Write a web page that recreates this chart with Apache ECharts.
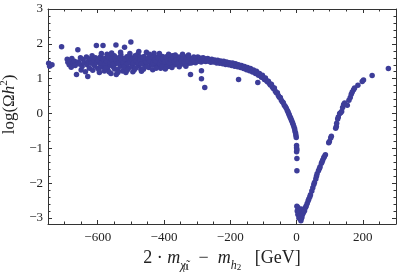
<!DOCTYPE html>
<html>
<head>
<meta charset="utf-8">
<script src="https://cdn.jsdelivr.net/npm/echarts@6/dist/echarts.min.js"></script>
<style>html,body{margin:0;padding:0;background:#fff}#c{width:399px;height:272px}</style>
</head>
<body>
<div id="c"></div>
<script>
// ---- data ----
const xTickValues = [-600, -400, -200, 0, 200];
const xMinorTicks = [-700, -650, -550, -500, -450, -350, -300, -250, -150, -100, -50, 50, 100, 150, 250];
const yTickValues = [-3, -2, -1, 0, 1, 2, 3];
const yMinorTicks = [-2.8, -2.6, -2.4, -2.2, -1.8, -1.6, -1.4, -1.2, -0.8, -0.6, -0.4, -0.2,
  0.2, 0.4, 0.6, 0.8, 1.2, 1.4, 1.6, 1.8, 2.2, 2.4, 2.6, 2.8];

const plateauPoints = [
[-748,1.44],[-745,1.36],[-738,1.40],[-709,1.92],
[-692,1.56],[-690,1.47],[-686,1.40],[-684,1.52],[-680,1.33],[-678,1.58],[-674,1.45],[-670,1.50],[-668,1.38],[-664,1.12],[-660,1.83],[-658,1.48],[-655,1.42],[-652,1.60],[-650,1.25],[-647,1.35],[-644,1.55],[-640,1.46],[-637,1.20],[-634,1.62],[-632,1.40],[-630,1.06],[-628,1.50],[-625,1.30],[-622,1.57],[-620,1.44],[-617,1.66],[-615,1.24],[-612,1.52],[-610,1.38],[-607,1.60],[-604,1.95],[-602,1.47],[-600,1.30],[-597,1.55],[-595,1.18],[-592,1.42],[-590,1.64],[-587,1.35],[-584,1.95],[-582,1.50],[-580,1.22],[-577,1.58],[-575,1.44],[-572,1.70],[-570,1.28],[-567,1.52],[-565,1.38],[-562,1.62],[-560,1.15],[-557,1.48],[-555,1.56],[-552,1.33],[-550,1.66],[-548,1.42],[-545,1.97],[-544,1.12],[-542,1.54],[-540,1.26],[-537,1.60],[-535,1.46],[-532,1.36],[-530,1.68],[-527,1.50],[-525,1.22],[-522,1.57],[-519,1.90],[-517,1.40],[-515,1.18],[-512,1.63],[-510,1.48],[-507,1.30],[-505,1.55],[-502,1.44],[-500,2.05],[-498,1.60],[-495,1.35],[-492,1.52],[-490,1.25],[-487,1.66],[-485,1.45],[-482,1.58],[-479,1.70],[-477,1.38],[-475,1.50],[-472,1.62],[-470,1.28],[-468,1.21],[-466,1.55],[-463,1.43],[-460,1.64],[-457,1.36],[-455,1.52],[-453,1.76],[-450,1.47],[-447,1.58],[-445,1.32],[-442,1.60],[-440,1.45],[-437,1.53],[-435,1.40],[-432,1.66],[-430,1.73],[-428,1.48],[-425,1.56],[-422,1.36],[-420,1.62],[-417,1.50],[-415,1.44],[-412,1.58],[-410,1.30],[-407,1.54],[-405,1.64],[-402,1.46],[-400,1.52],[-397,1.40],[-395,1.60],[-392,1.48],[-390,1.56],[-387,1.35],[-385,1.62],[-382,1.50],[-380,1.44],[-377,1.58],[-375,1.66],[-372,1.47],[-370,1.53],[-367,1.40],[-365,1.60],[-362,1.50],[-360,1.56],[-357,1.45],[-355,1.62],[-352,1.52],[-350,1.48],[-347,1.58],[-345,1.42],[-342,1.55],[-340,1.64],[-337,1.50],[-335,1.46],[-332,1.57],[-330,1.52],[-327,1.60],[-325,1.44],[-322,1.55],[-320,1.12],[-318,1.50],[-315,1.58],[-312,1.48],[-310,1.62],[-307,1.53],[-305,1.46],[-302,1.57]
];

const plateauCorePoints = [
[-598,1.52],[-593,1.61],[-588,1.45],[-583,1.56],[-578,1.40],[-573,1.50],[-568,1.63],[-563,1.47],[-558,1.55],[-553,1.42],[-548,1.58],[-543,1.50],[-538,1.44],[-533,1.60],[-528,1.53],[-523,1.46],[-518,1.57],[-513,1.41],[-508,1.62],[-503,1.49],[-498,1.55],[-493,1.44],[-488,1.59],[-483,1.51],[-478,1.46],[-473,1.56],[-468,1.43],[-463,1.61],[-458,1.52],[-453,1.47],[-448,1.57],[-443,1.50],[-438,1.62],[-433,1.45],[-428,1.54],[-423,1.49],[-418,1.59],[-413,1.43],[-408,1.52],[-403,1.57],[-398,1.48],[-393,1.63],[-388,1.51],[-383,1.46],[-378,1.55],[-373,1.60],[-368,1.49],[-363,1.54],[-358,1.44],[-353,1.58],[-348,1.51],[-343,1.61],[-338,1.47],[-333,1.55],[-328,1.50],[-323,1.59],[-318,1.45],[-313,1.56],[-308,1.51],[-303,1.60]
];

const plateauScatterPoints = [
[-596,1.26],[-589,1.72],[-576,1.31],[-566,1.20],[-558,1.74],[-549,1.28],[-539,1.18],[-531,1.76],[-521,1.33],[-511,1.24],[-503,1.72],[-494,1.20],[-486,1.30],[-476,1.78],[-462,1.27],[-451,1.34],[-444,1.70],[-434,1.26],[-424,1.30],[-414,1.72],[-406,1.34],[-396,1.28],[-386,1.70],[-376,1.32],[-366,1.68],[-354,1.34],[-344,1.70],[-334,1.36],[-326,1.68]
];

const descentPoints = [
[-298,1.62],[-296,1.50],[-293,1.56],[-290,1.59],[-288,1.48],[-287,1.23],[-287,1.00],[-285,1.55],[-282,1.60],[-280,1.51],[-277,0.75],[-277,1.57],[-274,1.49],[-271,1.55],[-268,1.58],[-265,1.50],[-262,1.54],[-259,1.47],[-256,1.56],[-253,1.51],[-250,1.48],[-247,1.54],[-244,1.50],[-241,1.45],[-238,1.53],[-235,1.49],[-232,1.44],[-229,1.51],[-226,1.47],[-223,1.43],[-220,1.50],[-217,1.45],[-214,1.41],[-211,1.48],[-208,1.44],[-205,1.40],[-202,1.46],[-199,1.42],[-196,1.38],[-193,1.45],[-190,1.40],[-187,1.36],[-184,1.43],[-181,1.38],[-178,1.34],[-175,0.98],[-175,1.40],[-172,1.36],[-169,1.32],[-166,1.38],[-163,1.33],[-160,1.29],[-157,1.35],[-154,1.30],[-151,1.26],[-148,1.32],[-145,1.27],[-142,1.23],[-139,1.29],[-136,1.24],[-133,1.19],[-130,1.25],[-127,1.20],[-124,1.15],[-121,1.21],[-118,1.16],[-117,0.89],[-115,1.10],[-112,1.15],[-109,1.09],[-106,1.04],[-103,1.10],[-100,1.03],[-97,0.98],[-94,1.02],[-91,0.95],[-88,0.91],[-85,0.93],[-82,0.86],[-79,0.82],[-76,0.84],[-73,0.76],[-70,0.72],[-67,0.73],[-64,0.64],[-61,0.60],[-58,0.60],[-55,0.52],[-52,0.47],[-49,0.46],[-46,0.38],[-43,0.34],[-40,0.31],[-37,0.24],[-34,0.20],[-31,0.15],[-28,0.09],[-26,0.05],[-24,0.00],[-22,-0.04],[-20,-0.09],[-18,-0.13],[-16,-0.18],[-14,-0.22],[-12,-0.27],[-10,-0.32],[-8,-0.38],[-6,-0.44],[-5,-0.50],[-3,-0.56],[-2,-0.62],[-1,-0.69]
];

const dipPoints = [
[0,-0.92],[0,-0.98],[1,-1.04],[0,-1.10],[1,-1.29],[1,-1.64],
[1,-2.66],[4,-2.70],[2,-2.80],[6,-2.84],[4,-2.90],[9,-2.95],[8,-2.78],[12,-2.92],[14,-2.74],[11,-3.02],[13,-3.08],[16,-2.98],[7,-3.00]
];

const risePoints = [
[14,-3.02],[18,-2.90],[21,-2.84],[24,-2.79],[27,-2.70],[29,-2.65],[32,-2.58],[35,-2.50],[37,-2.45],[40,-2.39],[42,-2.33],[46,-2.22],[49,-2.13],[52,-2.04],[54,-1.98],[58,-1.88],[60,-1.80],[62,-1.73],[66,-1.64],[69,-1.58],[71,-1.53],[75,-1.43],[77,-1.38],[79,-1.33],[82,-1.27],[84,-1.23],[87,-1.18],[97,-0.84],[99,-0.80],[103,-0.70],[105,-0.65],[118,-0.42],[120,-0.37],[121,-0.28],[124,-0.16],[126,-0.10],[130,0.00],[133,0.02],[136,0.06],[139,0.17],[142,0.26],[145,0.30],[153,0.24],[158,0.38],[162,0.46],[165,0.55],[168,0.62],[172,0.68],[175,0.73],[185,0.81],[198,0.92],[202,0.96],[228,1.09],[277,1.29]
];

// ---- chart ----
const frameColor = '#333';
const serif = 'Liberation Serif';
const xMin = -750, xMax = 300, yMin = -3.17, yMax = 3;
const fmt = v => (v < 0 ? '\u2212' + (-v) : '' + v);

function axisBase(extra) {
  return Object.assign({
    type: 'value', splitLine: { show: false }, silent: true
  }, extra);
}

const chart = echarts.init(document.getElementById('c'), null, { renderer: 'canvas' });
chart.setOption({
  animation: false,
  backgroundColor: '#fff',
  grid: { left: 48, right: 3, top: 9, bottom: 48, containLabel: false, outerBoundsMode: 'none' },
  xAxis: [
    axisBase({
      position: 'bottom', min: xMin, max: xMax,
      axisLine: { show: true, onZero: false, lineStyle: { color: frameColor, width: 1 } },
      axisTick: { show: true, inside: true, length: 4, customValues: xTickValues, lineStyle: { color: frameColor } },
      axisLabel: { show: true, customValues: xTickValues, formatter: fmt, fontFamily: serif, fontSize: 13, color: '#222', margin: 7 },
      name: '{n|2 · }{i|m}{s|χ̃}{sup|0}{sub|1}{n|  −  }{i|m}{s2|h}{ss|2}{n|   [GeV]}',
      nameLocation: 'middle', nameGap: 20,
      nameTextStyle: {
        fontFamily: serif, fontSize: 18, color: '#222',
        rich: {
          n: { fontFamily: serif, fontSize: 18, color: '#222', lineHeight: 28 },
          i: { fontFamily: serif, fontSize: 18, fontStyle: 'italic', color: '#222', lineHeight: 28 },
          s: { fontFamily: serif, fontSize: 12, fontStyle: 'italic', color: '#222', lineHeight: 18, verticalAlign: 'bottom' },
          sup: { fontFamily: serif, fontSize: 8, color: '#222', lineHeight: 24, verticalAlign: 'bottom', width: 0.01 },
          sub: { fontFamily: serif, fontSize: 8, color: '#222', lineHeight: 12, verticalAlign: 'bottom' },
          s2: { fontFamily: serif, fontSize: 12, fontStyle: 'italic', color: '#222', lineHeight: 20, verticalAlign: 'bottom' },
          ss: { fontFamily: serif, fontSize: 9, color: '#222', lineHeight: 13, verticalAlign: 'bottom' }
        }
      }
    }),
    axisBase({
      position: 'bottom', min: xMin, max: xMax,
      axisLine: { show: false, onZero: false },
      axisTick: { show: true, inside: true, length: 2.5, customValues: xMinorTicks, lineStyle: { color: frameColor } },
      axisLabel: { show: false }
    }),
    axisBase({
      position: 'top', min: xMin, max: xMax,
      axisLine: { show: true, onZero: false, lineStyle: { color: frameColor, width: 1 } },
      axisTick: { show: true, inside: true, length: 4, customValues: xTickValues, lineStyle: { color: frameColor } },
      axisLabel: { show: false }
    }),
    axisBase({
      position: 'top', min: xMin, max: xMax,
      axisLine: { show: false, onZero: false },
      axisTick: { show: true, inside: true, length: 2.5, customValues: xMinorTicks, lineStyle: { color: frameColor } },
      axisLabel: { show: false }
    })
  ],
  yAxis: [
    axisBase({
      position: 'left', min: yMin, max: yMax,
      axisLine: { show: true, onZero: false, lineStyle: { color: frameColor, width: 1 } },
      axisTick: { show: true, inside: true, length: 4, customValues: yTickValues, lineStyle: { color: frameColor } },
      axisLabel: { show: true, customValues: yTickValues, formatter: fmt, fontFamily: serif, fontSize: 13, color: '#222', margin: 5 },
      name: '{n|log(Ω}{i|h}{sup|2}{n|)}',
      nameLocation: 'middle', nameGap: 24,
      nameTextStyle: {
        fontFamily: serif, fontSize: 17, color: '#222', padding: [0, 0, 0, 24],
        rich: {
          n: { fontFamily: serif, fontSize: 17, color: '#222', lineHeight: 22 },
          i: { fontFamily: serif, fontSize: 17, fontStyle: 'italic', color: '#222', lineHeight: 22 },
          sup: { fontFamily: serif, fontSize: 11, color: '#222', lineHeight: 12, verticalAlign: 'top' }
        }
      }
    }),
    axisBase({
      position: 'left', min: yMin, max: yMax,
      axisLine: { show: false, onZero: false },
      axisTick: { show: true, inside: true, length: 2.5, customValues: yMinorTicks, lineStyle: { color: frameColor } },
      axisLabel: { show: false }
    }),
    axisBase({
      position: 'right', min: yMin, max: yMax,
      axisLine: { show: true, onZero: false, lineStyle: { color: frameColor, width: 1 } },
      axisTick: { show: true, inside: true, length: 4, customValues: yTickValues, lineStyle: { color: frameColor } },
      axisLabel: { show: false }
    }),
    axisBase({
      position: 'right', min: yMin, max: yMax,
      axisLine: { show: false, onZero: false },
      axisTick: { show: true, inside: true, length: 2.5, customValues: yMinorTicks, lineStyle: { color: frameColor } },
      axisLabel: { show: false }
    })
  ],
  series: [plateauPoints, plateauCorePoints, plateauScatterPoints, descentPoints, dipPoints, risePoints].map(d => ({
    type: 'scatter', xAxisIndex: 0, yAxisIndex: 0, data: d,
    symbol: 'circle', symbolSize: 5.5,
    itemStyle: { color: '#3d3d99', opacity: 1 },
    silent: true
  }))
});
</script>
</body>
</html>
